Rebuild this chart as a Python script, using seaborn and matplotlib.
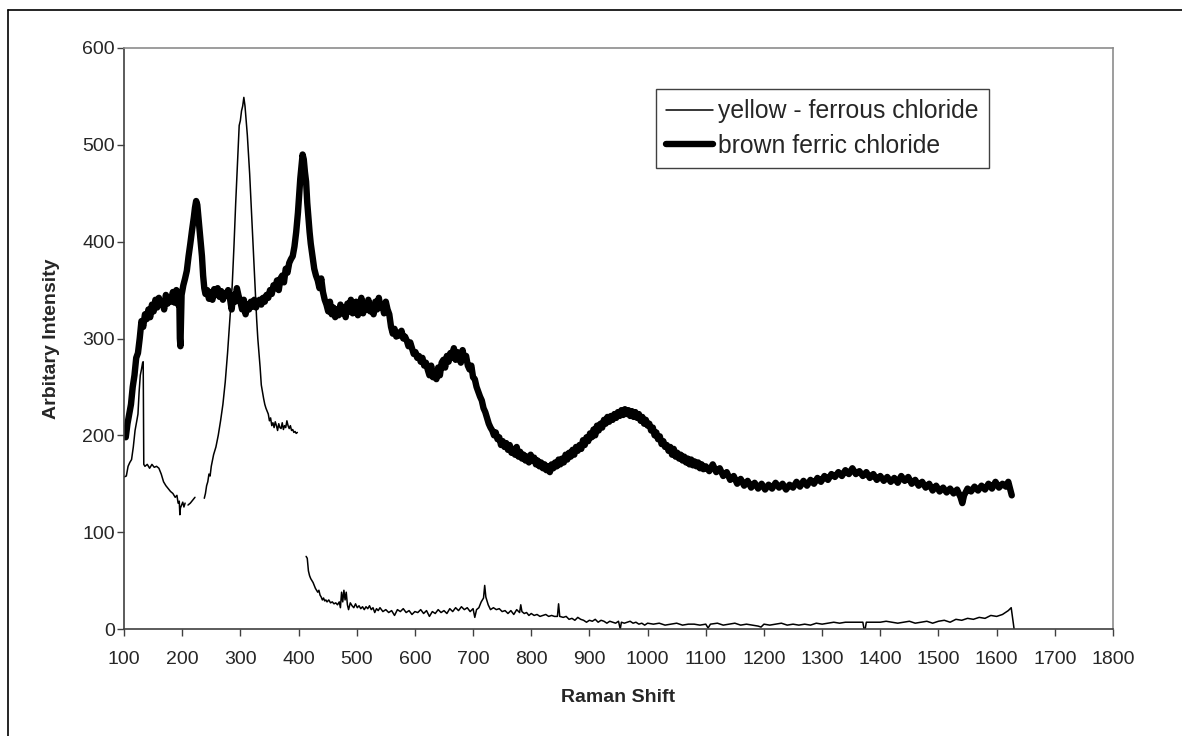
import numpy as np
import pandas as pd
import matplotlib
matplotlib.use("Agg")
import matplotlib.pyplot as plt
from matplotlib.lines import Line2D
import seaborn as sns

# ---------------- data ----------------
series_names = ["yellow - ferrous chloride", "brown ferric chloride"]
x_ticks = list(range(100, 1801, 100))
y_ticks = list(range(0, 601, 100))
x_label = "Raman Shift"
y_label = "Arbitary Intensity"

brown_x = [100, 103, 106, 109, 112, 115, 118, 121, 124, 127, 130, 133, 136, 139, 142, 145, 148, 151, 154, 157,
           160, 163, 166, 169, 172, 175, 178, 181, 184, 187, 190, 193, 195, 196, 197, 198, 199, 202, 205, 208,
           211, 214, 217, 220, 222, 224, 226, 228, 230, 232, 234, 236, 238, 240, 243, 246, 249, 252, 255, 258,
           261, 264, 267, 270, 273, 276, 279, 282, 285, 288, 291, 294, 297, 300, 303, 306, 309, 312, 315, 318,
           321, 324, 327, 330, 333, 336, 339, 342, 345, 348, 351, 354, 357, 360, 363, 366, 369, 372, 375, 378,
           381, 384, 387, 390, 393, 396, 399, 401, 403, 405, 407, 409, 411, 413, 415, 417, 419, 421, 424, 427,
           430, 433, 436, 439, 442, 445, 448, 451, 454, 457, 460, 463, 466, 469, 472, 475, 478, 481, 484, 487,
           490, 493, 496, 499, 502, 505, 508, 511, 514, 517, 520, 523, 526, 529, 532, 535, 538, 541, 544, 547,
           550, 553, 556, 559, 562, 565, 568, 571, 574, 577, 580, 583, 586, 589, 592, 595, 598, 601, 604, 607,
           610, 613, 616, 619, 622, 625, 628, 631, 634, 637, 640, 643, 646, 649, 652, 655, 658, 661, 664, 667,
           670, 673, 676, 679, 682, 685, 688, 691, 694, 697, 700, 703, 706, 709, 712, 715, 718, 721, 724, 727,
           730, 733, 736, 739, 742, 745, 748, 751, 754, 757, 760, 763, 766, 769, 772, 775, 778, 781, 784, 787,
           790, 793, 796, 799, 802, 805, 808, 811, 814, 817, 820, 823, 826, 829, 832, 835, 838, 841, 844, 847,
           850, 853, 856, 859, 862, 865, 868, 871, 874, 877, 880, 883, 886, 889, 892, 895, 898, 901, 904, 907,
           910, 913, 916, 919, 922, 925, 928, 931, 934, 937, 940, 943, 946, 949, 952, 955, 958, 961, 964, 967,
           970, 973, 976, 979, 982, 985, 988, 991, 994, 997, 1000, 1003, 1006, 1009, 1012, 1015, 1018, 1021, 1024, 1027,
           1030, 1033, 1036, 1039, 1042, 1045, 1048, 1051, 1054, 1057, 1060, 1063, 1066, 1069, 1072, 1075, 1078, 1081, 1084, 1087,
           1090, 1093, 1096, 1100, 1106, 1112, 1118, 1124, 1130, 1136, 1142, 1148, 1154, 1160, 1166, 1172, 1178, 1184, 1190, 1196,
           1202, 1208, 1214, 1220, 1226, 1232, 1238, 1244, 1250, 1256, 1262, 1268, 1274, 1280, 1286, 1292, 1298, 1304, 1310, 1316,
           1322, 1328, 1334, 1340, 1346, 1352, 1358, 1364, 1370, 1376, 1382, 1388, 1394, 1400, 1406, 1412, 1418, 1424, 1430, 1436,
           1442, 1448, 1454, 1460, 1466, 1472, 1478, 1484, 1490, 1496, 1502, 1508, 1514, 1520, 1526, 1532, 1538, 1541, 1544, 1550,
           1556, 1562, 1568, 1574, 1580, 1586, 1592, 1598, 1604, 1610, 1616, 1620, 1623, 1626]
brown_y = [200, 198, 212, 222, 232, 250, 262, 280, 285, 300, 318, 312, 325, 320, 330, 322, 335, 328, 340, 332,
           342, 335, 338, 330, 345, 336, 342, 338, 348, 337, 350, 335, 345, 300, 292, 320, 345, 355, 362, 370,
           385, 398, 412, 425, 435, 442, 438, 425, 412, 398, 385, 365, 352, 346, 350, 341, 348, 340, 351, 345,
           352, 343, 349, 340, 347, 344, 350, 342, 330, 345, 338, 352, 344, 338, 330, 340, 325, 335, 330, 338,
           333, 340, 332, 338, 340, 335, 342, 338, 345, 342, 350, 346, 355, 352, 360, 350, 362, 365, 358, 372,
           368, 378, 382, 385, 395, 410, 430, 448, 465, 478, 490, 485, 472, 462, 440, 425, 410, 398, 385, 372,
           365, 360, 352, 362, 348, 340, 335, 328, 338, 325, 332, 322, 330, 324, 335, 326, 332, 322, 336, 328,
           340, 326, 334, 338, 324, 332, 342, 326, 336, 330, 340, 328, 334, 325, 338, 330, 342, 332, 335, 326,
           338, 330, 325, 312, 305, 310, 302, 306, 303, 308, 300, 302, 298, 292, 296, 290, 284, 286, 280, 282,
           276, 280, 272, 275, 268, 262, 272, 260, 265, 258, 270, 262, 275, 278, 270, 282, 276, 285, 280, 290,
           278, 286, 282, 275, 288, 278, 282, 272, 268, 272, 260, 258, 250, 245, 240, 236, 228, 224, 218, 212,
           208, 205, 200, 203, 196, 198, 190, 194, 188, 192, 185, 190, 182, 186, 180, 188, 178, 183, 176, 180,
           174, 178, 172, 180, 174, 177, 170, 174, 168, 172, 166, 170, 164, 168, 162, 170, 166, 172, 168, 175,
           170, 176, 172, 180, 175, 182, 178, 185, 180, 188, 184, 190, 186, 195, 190, 198, 194, 202, 198, 206,
           200, 210, 205, 212, 208, 216, 212, 219, 214, 220, 216, 222, 218, 224, 220, 226, 221, 227, 222, 226,
           220, 225, 219, 224, 218, 222, 215, 219, 212, 216, 210, 212, 205, 208, 200, 203, 196, 199, 191, 194,
           188, 190, 184, 188, 180, 186, 178, 182, 176, 180, 174, 178, 172, 176, 170, 175, 169, 173, 168, 172,
           166, 170, 165, 168, 163, 170, 162, 166, 158, 162, 154, 158, 150, 155, 148, 153, 146, 151, 145, 150,
           144, 149, 145, 151, 146, 150, 144, 149, 146, 152, 147, 153, 148, 154, 150, 156, 152, 158, 154, 160,
           157, 162, 158, 164, 160, 166, 160, 163, 158, 162, 156, 160, 154, 158, 153, 157, 152, 156, 151, 158,
           153, 157, 150, 154, 148, 152, 146, 150, 143, 148, 142, 146, 141, 145, 140, 144, 136, 130, 138, 145,
           142, 147, 143, 148, 144, 150, 145, 152, 146, 150, 147, 152, 145, 138]

nan = float("nan")
yellow_x = [100, 104, 107, 110, 113, 116, 119, 122, 124, 126, 128, 130, 132, 133, 134, 136, 140, 144, 148, 152,
            156, 160, 164, 168, 172, 176, 180, 184, 188, 191, 193, 195, 196, 197, 199, 201, 203, 205, 207, 210,
            214, 218, 222, 230, 238, 240, 242, 244, 246, 248, 250, 254, 258, 262, 266, 270, 274, 278, 282, 286,
            289, 292, 295, 298, 300, 302, 304, 306, 308, 310, 312, 314, 316, 318, 320, 322, 324, 326, 328, 330,
            332, 334, 336, 338, 340, 342, 344, 346, 348, 350, 352, 354, 356, 358, 360, 362, 364, 366, 368, 370,
            372, 374, 376, 378, 380, 382, 384, 386, 388, 390, 392, 394, 396, 398, 405, 413, 415, 417, 419, 421,
            423, 425, 427, 429, 431, 433, 435, 437, 439, 441, 443, 445, 447, 449, 452, 455, 458, 461, 464, 467,
            470, 472, 474, 476, 478, 480, 482, 484, 486, 489, 492, 495, 498, 501, 504, 507, 510, 513, 516, 519,
            522, 525, 528, 531, 534, 537, 540, 545, 550, 555, 560, 565, 570, 575, 580, 585, 590, 595, 600, 605,
            610, 615, 620, 625, 630, 635, 640, 645, 650, 655, 660, 665, 670, 675, 680, 685, 690, 695, 700, 703,
            706, 710, 714, 718, 720, 722, 726, 730, 735, 740, 745, 750, 755, 760, 765, 770, 775, 780, 782, 784,
            788, 792, 796, 800, 805, 810, 815, 820, 825, 830, 835, 840, 845, 847, 849, 855, 860, 865, 870, 875,
            880, 885, 890, 895, 900, 905, 910, 915, 920, 925, 930, 935, 940, 945, 950, 953, 955, 960, 965, 970,
            975, 980, 985, 990, 995, 1000, 1010, 1020, 1030, 1040, 1050, 1060, 1070, 1080, 1090, 1100, 1104, 1108, 1120, 1130,
            1140, 1150, 1160, 1170, 1180, 1190, 1195, 1200, 1210, 1220, 1230, 1240, 1250, 1260, 1270, 1280, 1290, 1300, 1310, 1320,
            1330, 1340, 1350, 1360, 1370, 1372, 1374, 1376, 1380, 1390, 1400, 1410, 1420, 1430, 1440, 1450, 1460, 1470, 1480, 1490,
            1500, 1510, 1520, 1530, 1540, 1550, 1560, 1570, 1580, 1590, 1600, 1610, 1615, 1620, 1625, 1630]
yellow_y = [157, 158, 168, 172, 175, 188, 205, 215, 222, 245, 262, 268, 275, 276, 170, 168, 170, 166, 170, 167,
            168, 166, 160, 152, 148, 145, 142, 140, 136, 138, 130, 132, 118, 125, 128, 131, 126, 130, nan, 128,
            130, 133, 136, nan, 135, 140, 148, 152, 160, 158, 168, 180, 188, 200, 215, 232, 255, 285, 320, 355,
            395, 440, 480, 520, 525, 535, 540, 549, 540, 525, 510, 490, 470, 445, 420, 395, 370, 345, 320, 300,
            285, 270, 252, 245, 238, 232, 228, 225, 222, 215, 218, 210, 213, 208, 214, 210, 205, 212, 208, 207,
            213, 206, 210, 208, 215, 210, 207, 210, 205, 206, 203, 204, 202, 203, nan, 75, 73, 60, 55, 52,
            50, 48, 45, 42, 40, 38, 40, 35, 33, 30, 32, 29, 30, 28, 30, 27, 28, 26, 27, 25,
            28, 22, 38, 28, 40, 30, 38, 25, 20, 27, 24, 22, 26, 22, 24, 21, 23, 20, 23, 21,
            24, 20, 22, 17, 21, 19, 22, 18, 20, 17, 19, 14, 20, 18, 21, 17, 19, 15, 18, 17,
            20, 16, 19, 13, 18, 16, 20, 17, 19, 16, 21, 18, 22, 19, 23, 20, 22, 18, 21, 12,
            20, 22, 28, 32, 45, 33, 25, 20, 22, 20, 21, 18, 19, 16, 19, 15, 20, 17, 25, 18,
            16, 17, 14, 16, 14, 15, 13, 14, 15, 13, 14, 13, 13, 26, 13, 12, 13, 10, 11, 9,
            12, 10, 9, 7, 9, 8, 10, 7, 9, 8, 6, 8, 7, 6, 8, 0, 7, 6, 7, 8,
            6, 7, 5, 6, 4, 6, 5, 6, 4, 5, 6, 4, 5, 5, 4, 5, 1, 5, 6, 4,
            5, 6, 4, 5, 4, 3, 2, 5, 4, 5, 6, 4, 5, 4, 5, 4, 6, 5, 6, 7,
            6, 7, 7, 7, 7, 0, 0, 7, 7, 7, 7, 8, 7, 6, 7, 8, 6, 7, 8, 6,
            8, 9, 7, 10, 9, 11, 10, 12, 11, 14, 13, 15, 17, 19, 22, 0]

# ---------------- figure ----------------
sns.set_theme(style="white")
plt.rcParams["font.family"] = ["Liberation Sans", "DejaVu Sans"]

W, H = 1182, 736
fig = plt.figure(figsize=(W / 100, H / 100), dpi=100)
ax = fig.add_axes([124 / W, 1 - 629 / H, (1113 - 124) / W, (629 - 48) / H])

# outer chart border (only left/top visible in reference)
fig.add_artist(Line2D([8 / W, 8 / W], [0, 1 - 10 / H], transform=fig.transFigure, color="black", lw=1.2))
fig.add_artist(Line2D([8 / W, 1], [1 - 10 / H, 1 - 10 / H], transform=fig.transFigure, color="black", lw=1.2))

yellow = pd.DataFrame({"x": yellow_x, "y": yellow_y})
yellow["seg"] = yellow["y"].isna().cumsum()
for _, seg in yellow.dropna().groupby("seg"):
    sns.lineplot(data=seg, x="x", y="y", ax=ax, color="black", linewidth=1.1,
                 estimator=None, sort=False, legend=False)

brown = pd.DataFrame({"x": brown_x, "y": brown_y})
sns.lineplot(data=brown, x="x", y="y", ax=ax, color="black", linewidth=4.6,
             estimator=None, sort=False, legend=False, solid_capstyle="round", solid_joinstyle="round")

ax.set_xlim(100, 1800)
ax.set_ylim(0, 600)
ax.set_xticks(x_ticks)
ax.set_yticks(y_ticks)
ax.tick_params(axis="both", which="major", direction="out", length=5, width=1,
               color="#404040", labelsize=14, bottom=True, left=True)
ax.tick_params(axis="x", pad=11)
ax.tick_params(axis="y", pad=1.5)
for s in ["left", "bottom"]:
    ax.spines[s].set_color("#404040")
    ax.spines[s].set_linewidth(1.2)
for s in ["top", "right"]:
    ax.spines[s].set_color("#8c8c8c")
    ax.spines[s].set_linewidth(1.2)

ax.set_xlabel(x_label, fontsize=14, fontweight="bold", labelpad=15)
ax.set_ylabel(y_label, fontsize=14, fontweight="bold", labelpad=16)

handles = [Line2D([], [], color="black", lw=1.1),
           Line2D([], [], color="black", lw=4.6, solid_capstyle="round")]
leg = fig.legend(handles, series_names, loc="upper left",
                 bbox_to_anchor=(656 / W, 1 - 89 / H), bbox_transform=fig.transFigure,
                 borderaxespad=0, fancybox=False, frameon=True, framealpha=1,
                 edgecolor="#404040", fontsize=17.8, handlelength=1.9,
                 handletextpad=0.2, labelspacing=0.42, borderpad=0.42)
leg.get_frame().set_linewidth(1.0)

fig.savefig("out.png", dpi=100)
